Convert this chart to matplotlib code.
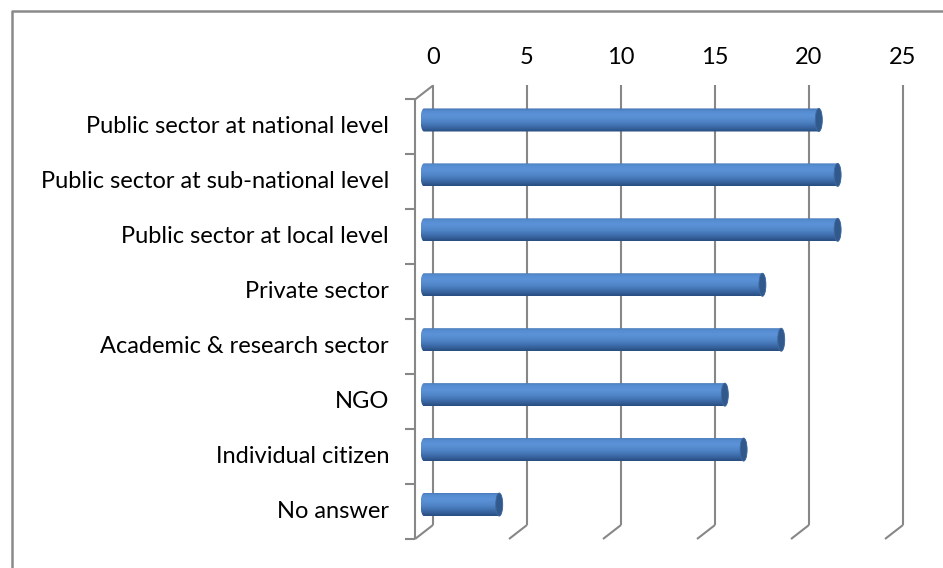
# Respondent groups - 3D style horizontal cylinder bars

import numpy as np
import matplotlib.pyplot as plt
from matplotlib import transforms
from matplotlib.colors import LinearSegmentedColormap
from matplotlib.patches import Ellipse, Polygon
from matplotlib.lines import Line2D

categories = [
    "Public sector at national level",
    "Public sector at sub-national level",
    "Public sector at local level",
    "Private sector",
    "Academic & research sector",
    "NGO",
    "Individual citizen",
    "No answer",
]
values = [21, 22, 22, 18, 19, 16, 17, 4]
x_ticks = [0, 5, 10, 15, 20, 25]

W, H, DPI = 943, 568, 100
plt.rcParams['font.family'] = ['Lato', 'DejaVu Sans']
FS = 17

PX = 470 / 25  # pixels per unit
fig = plt.figure(figsize=(W / DPI, H / DPI), dpi=DPI)
# x runs from -1 so the rounded bar ends are not cut by the axes box
ax = fig.add_axes([(424 - PX) / W, 36 / H, (470 + PX) / W, 439.5 / H])

# depth of the 3D box, expressed in data units (9 px right, 7 px up)
ddx = 9 / PX
ddy = 7 * 8 / 439.5
y_top, y_bot = -0.5, 7.5

grid_kw = dict(color='#878787', lw=1.5, solid_capstyle='butt', clip_on=False, zorder=1)

# back wall gridlines + floor edges
for v in x_ticks:
    ax.plot([v + ddx, v + ddx], [y_top - ddy, y_bot - ddy], **grid_kw)
    ax.plot([v + ddx, v - ddx], [y_bot - ddy, y_bot + ddy], **grid_kw)

# side wall: top edge and front axis line
ax.plot([ddx, -ddx], [y_top - ddy, y_top + ddy], **grid_kw)
ax.plot([-ddx, -ddx], [y_top + ddy, y_bot + ddy], **grid_kw)
edges = np.arange(len(categories) + 1) - 0.5
ax.plot(np.full(len(edges), -ddx), edges + ddy, ls='none', marker=0, ms=7,
        mew=1.5, color='#878787', clip_on=False, zorder=1)

# value axis labels along the top
top_tr = transforms.blended_transform_factory(ax.transData, fig.transFigure)
for v in x_ticks:
    ax.text(v + ddx, 1 - 57 / H, str(v), transform=top_tr, ha='center',
            va='center', fontsize=FS, color='black')

# category labels left of the front axis
lab_tr = ax.transData + transforms.ScaledTranslation(-26 / DPI, 0, fig.dpi_scale_trans)
for i, name in enumerate(categories):
    ax.text(-ddx, i + ddy, name, transform=lab_tr, ha='right', va='center',
            fontsize=FS, color='black')

# cylinders
cmap = LinearSegmentedColormap.from_list('cyl', [
    (0.0, '#4473b0'), (0.12, '#558bcf'), (0.3, '#5c93d8'),
    (0.55, '#5086c8'), (0.8, '#3b69a6'), (1.0, '#284d80')])
grad = np.linspace(0, 1, 64).reshape(-1, 1)
bar_h = 0.42
a = 3.5 / PX
t_left = np.linspace(np.pi / 2, 3 * np.pi / 2, 40)
t_right = np.linspace(-np.pi / 2, np.pi / 2, 40)

for i, v in enumerate(values):
    outline = np.vstack([
        np.column_stack([a * np.cos(t_left), i + bar_h / 2 * np.sin(t_left)]),
        np.column_stack([v + a * np.cos(t_right), i + bar_h / 2 * np.sin(t_right)]),
    ])
    shape = Polygon(outline, closed=True, transform=ax.transData)
    im = ax.imshow(grad, cmap=cmap, extent=(-a, v + a, i + bar_h / 2, i - bar_h / 2),
                   aspect='auto', origin='upper', interpolation='bicubic', zorder=3)
    im.set_clip_path(shape)
    ax.add_patch(Ellipse((v, i), 2 * a, bar_h, facecolor='#31598c',
                         edgecolor='#3f6aa2', lw=0.6, zorder=4))

ax.set_xlim(-1, 25)
ax.set_ylim(y_bot, y_top)
ax.axis('off')

# chart area border
fig.add_artist(Line2D([12 / W, 12 / W, 1], [0, 1 - 11 / H, 1 - 11 / H],
                      transform=fig.transFigure, color='#8a8a8a', lw=1.8))

fig.savefig('out.png', dpi=DPI)
